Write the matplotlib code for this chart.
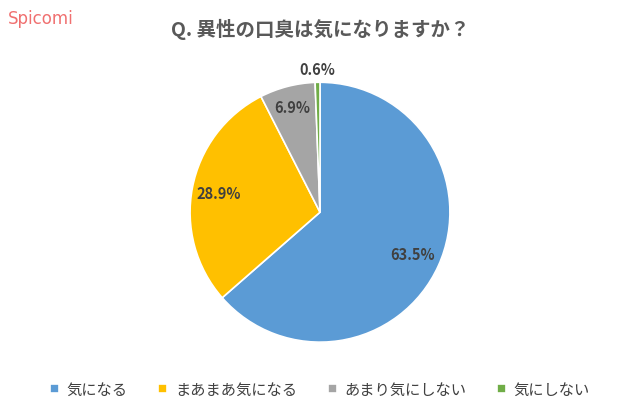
import numpy as np
import matplotlib.pyplot as plt

labels = ['気になる', 'まあまあ気になる', 'あまり気にしない', '気にしない']
values = [63.5, 28.9, 6.9, 0.6]
colors = ['#5b9bd5', '#ffc000', '#a5a5a5', '#70ad47']
label_r = [0.78, 0.79, 0.84, 1.10]

plt.rcParams['font.family'] = ['Noto Sans CJK JP']
fig = plt.figure(figsize=(6.4, 4.14), dpi=100)
fig.text(0.5, 0.928, 'Q. 異性の口臭は気になりますか？', ha='center', va='center',
         fontsize=14, fontweight='bold', color='#595959')
fig.text(0.012, 0.955, 'Spicomi', ha='left', va='center', fontsize=12, color='#f07070',
         family='DejaVu Sans')

ax = fig.add_axes([0.297, 0.171, 0.406, 0.628])
wedges, _ = ax.pie(values, colors=colors, startangle=90, counterclock=False,
                   wedgeprops=dict(edgecolor='white', linewidth=1.2))
for w, v, r in zip(wedges, values, label_r):
    ang = np.deg2rad((w.theta1 + w.theta2) / 2)
    ax.text(r * np.cos(ang), r * np.sin(ang), f'{v}%', ha='center', va='center',
            fontsize=10.5, fontweight='bold', color='#404040')
ax.set_xlim(-1, 1)
ax.set_ylim(-1, 1)
ax.set_aspect('equal')

fig.legend(wedges, labels, loc='center', bbox_to_anchor=(0.5, 0.057), ncol=4,
           frameon=False, fontsize=11, handlelength=0.6, handleheight=0.6,
           columnspacing=2.0, handletextpad=0.5, labelcolor='#404040')
fig.savefig('out.png', dpi=100)
